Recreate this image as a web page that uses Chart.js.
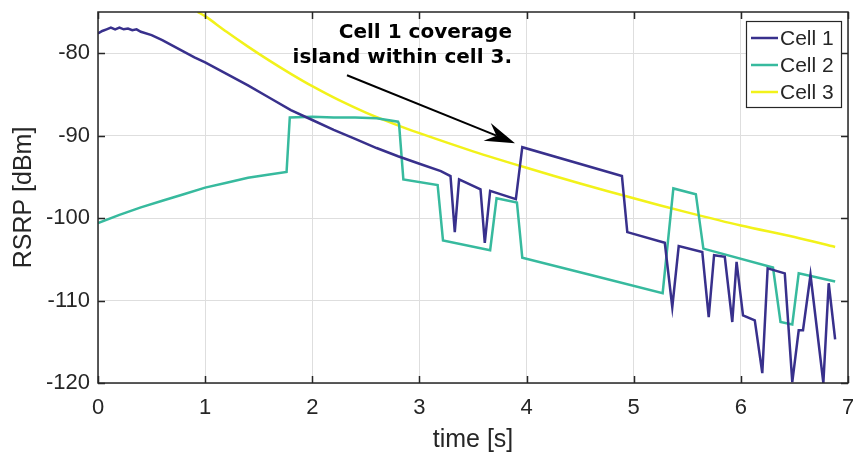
<!DOCTYPE html>
<html><head><meta charset="utf-8">
<script src="https://cdn.jsdelivr.net/npm/chart.js@4.4.1/dist/chart.umd.min.js"></script>
<style>html,body{margin:0;padding:0;background:#fff;overflow:hidden}canvas{display:block}</style>
</head><body>
<canvas id="c" width="853" height="456"></canvas>
<script>
const seriesNames = ['Cell 1', 'Cell 2', 'Cell 3'];

const cell1Time = [0.0, 0.04, 0.08, 0.12, 0.16, 0.2, 0.24, 0.28, 0.32, 0.36, 0.4, 0.5, 0.6, 0.7, 0.8, 0.9, 1.0, 1.2, 1.4, 1.6, 1.8, 2.0, 2.2, 2.4, 2.6, 2.8, 3.0, 3.2, 3.29, 3.33, 3.37, 3.57, 3.61, 3.66, 3.9, 3.96, 4.89, 4.94, 5.29, 5.36, 5.42, 5.64, 5.70, 5.75, 5.85, 5.92, 5.96, 6.02, 6.13, 6.20, 6.25, 6.41, 6.48, 6.54, 6.58, 6.65, 6.77, 6.82, 6.88];
const cell1Rsrp = [-77.6, -77.3, -77.1, -76.9, -77.1, -76.9, -77.1, -77.0, -77.2, -77.1, -77.4, -77.8, -78.4, -79.1, -79.8, -80.5, -81.1, -82.5, -83.9, -85.4, -86.9, -88.1, -89.3, -90.4, -91.5, -92.5, -93.4, -94.3, -94.9, -101.7, -95.3, -96.5, -103.0, -96.7, -97.7, -91.4, -94.9, -101.7, -103.0, -110.8, -103.4, -104.1, -112.0, -104.5, -104.7, -112.6, -105.3, -111.8, -112.4, -118.8, -106.1, -106.7, -119.9, -113.6, -113.6, -106.9, -120.0, -107.9, -114.7];

const cell2Time = [0.0, 0.2, 0.4, 0.6, 0.8, 1.0, 1.2, 1.4, 1.6, 1.76, 1.79, 2.0, 2.2, 2.4, 2.6, 2.8, 2.81, 2.85, 3.17, 3.22, 3.66, 3.72, 3.91, 3.96, 4.6, 5.27, 5.37, 5.58, 5.65, 6.30, 6.37, 6.48, 6.54, 6.88];
const cell2Rsrp = [-100.6, -99.6, -98.7, -97.9, -97.1, -96.3, -95.7, -95.1, -94.7, -94.4, -87.8, -87.7, -87.8, -87.8, -87.9, -88.3, -88.6, -95.3, -96.0, -102.7, -103.9, -97.6, -98.1, -104.8, -106.9, -109.1, -96.4, -97.1, -103.7, -106.0, -112.6, -112.9, -106.7, -107.7];

const cell3Time = [0.93, 1.0, 1.2, 1.4, 1.6, 1.8, 2.0, 2.25, 2.5, 2.75, 3.0, 3.5, 4.0, 4.5, 5.0, 5.5, 6.0, 6.5, 6.88];
const cell3Rsrp = [-75.0, -75.5, -77.4, -79.2, -80.9, -82.5, -84.0, -85.7, -87.2, -88.5, -89.7, -91.9, -93.9, -95.8, -97.6, -99.3, -100.9, -102.3, -103.5];

const xTicks = [0, 1, 2, 3, 4, 5, 6, 7];
const yTicks = [-120, -110, -100, -90, -80];
const annotationLines = ['Cell 1 coverage', 'island within cell 3.'];

const colors = ['#38308c', '#37ba9e', '#f2f21a'];
const toPts = (t, v) => t.map((x, i) => ({x: x, y: v[i]}));

const TXT = '#262626';

const framePlugin = {
  id: 'frame',
  afterDatasetsDraw(chart) {
    const {ctx, chartArea: a, scales: {x, y}} = chart;
    ctx.save();
    // annotation text + arrow
    ctx.fillStyle = '#000';
    ctx.font = 'bold 20px "DejaVu Sans"';
    ctx.textAlign = 'right';
    ctx.textBaseline = 'middle';
    const tx = x.getPixelForValue(3.864);
    ctx.fillText(annotationLines[0], tx, y.getPixelForValue(-77.55));
    ctx.fillText(annotationLines[1], tx, y.getPixelForValue(-80.6));
    const x0 = x.getPixelForValue(2.324), y0 = y.getPixelForValue(-82.67);
    const x1 = x.getPixelForValue(3.892), y1 = y.getPixelForValue(-90.91);
    const dx = x1 - x0, dy = y1 - y0, len = Math.hypot(dx, dy);
    const ux = dx / len, uy = dy / len, nx = -uy, ny = ux;
    const hl = 30, hw = 9.5;
    ctx.strokeStyle = '#000'; ctx.lineWidth = 2;
    ctx.beginPath(); ctx.moveTo(x0, y0); ctx.lineTo(x1 - 20 * ux, y1 - 20 * uy); ctx.stroke();
    ctx.beginPath();
    ctx.moveTo(x1, y1);
    ctx.lineTo(x1 - hl * ux + hw * nx, y1 - hl * uy + hw * ny);
    ctx.lineTo(x1 - 20 * ux, y1 - 20 * uy);
    ctx.lineTo(x1 - hl * ux - hw * nx, y1 - hl * uy - hw * ny);
    ctx.closePath(); ctx.fill();

    // frame
    ctx.strokeStyle = TXT; ctx.lineWidth = 1.5;
    ctx.strokeRect(a.left, a.top, a.right - a.left, a.bottom - a.top);
    const L = 7;
    ctx.beginPath();
    x.ticks.forEach(t => {
      const px = Math.round(x.getPixelForValue(t.value)) + 0.5;
      ctx.moveTo(px, a.bottom); ctx.lineTo(px, a.bottom - L);
      ctx.moveTo(px, a.top); ctx.lineTo(px, a.top + L);
    });
    y.ticks.forEach(t => {
      const py = Math.round(y.getPixelForValue(t.value)) + 0.5;
      ctx.moveTo(a.left, py); ctx.lineTo(a.left + L, py);
      ctx.moveTo(a.right, py); ctx.lineTo(a.right - L, py);
    });
    ctx.stroke();

    // legend
    const bx = 746, by = 21, bw = 95, bh = 86;
    ctx.fillStyle = '#fff';
    ctx.fillRect(bx, by, bw, bh);
    ctx.strokeStyle = TXT; ctx.lineWidth = 1.2;
    ctx.strokeRect(bx + 0.5, by + 0.5, bw, bh);
    ctx.font = '21px "Liberation Sans", Arial, sans-serif';
    ctx.textAlign = 'left';
    ctx.textBaseline = 'middle';
    chart.data.datasets.forEach((ds, i) => {
      const ry = by + 17 + i * 27;
      ctx.strokeStyle = ds.borderColor; ctx.lineWidth = 2.5;
      ctx.beginPath(); ctx.moveTo(bx + 5, ry); ctx.lineTo(bx + 32, ry); ctx.stroke();
      ctx.fillStyle = TXT;
      ctx.fillText(ds.label, bx + 34, ry + 1);
    });
    ctx.restore();
  }
};

new Chart(document.getElementById('c'), {
  type: 'line',
  data: {
    datasets: [
      {label: seriesNames[0], data: toPts(cell1Time, cell1Rsrp), borderColor: colors[0]},
      {label: seriesNames[1], data: toPts(cell2Time, cell2Rsrp), borderColor: colors[1]},
      {label: seriesNames[2], data: toPts(cell3Time, cell3Rsrp), borderColor: colors[2], tension: 0.3}
    ]
  },
  options: {
    responsive: false,
    animation: false,
    devicePixelRatio: 1,
    layout: {padding: {left: 0, right: 5, top: 12, bottom: 0}},
    elements: {
      line: {borderWidth: 2.5, tension: 0, fill: false},
      point: {radius: 0, hoverRadius: 0}
    },
    plugins: {legend: {display: false}, tooltip: {enabled: false}},
    scales: {
      x: {
        type: 'linear', min: 0, max: 7,
        afterBuildTicks: s => { s.ticks = xTicks.map(v => ({value: v})); },
        afterFit: s => { s.height = 73; s.paddingLeft = 0; s.paddingRight = 0; },
        grid: {color: '#dedede', lineWidth: 1, drawTicks: false},
        border: {display: false},
        ticks: {color: TXT, font: {family: '"Liberation Sans", Arial, sans-serif', size: 22}, padding: 12, maxRotation: 0, callback: v => String(v)},
        title: {display: true, text: 'time [s]', color: TXT, font: {family: '"Liberation Sans", Arial, sans-serif', size: 25}, padding: {top: 0, bottom: 1}}
      },
      y: {
        type: 'linear', min: -120, max: -75,
        afterBuildTicks: s => { s.ticks = yTicks.map(v => ({value: v})); },
        afterFit: s => { s.width = 98; s.paddingTop = 0; s.paddingBottom = 0; },
        grid: {color: '#dedede', lineWidth: 1, drawTicks: false},
        border: {display: false},
        ticks: {color: TXT, font: {family: '"Liberation Sans", Arial, sans-serif', size: 22}, padding: 8, callback: v => String(v)},
        title: {display: true, text: 'RSRP [dBm]', color: TXT, font: {family: '"Liberation Sans", Arial, sans-serif', size: 25}, padding: {top: 9, bottom: 0}}
      }
    }
  },
  plugins: [framePlugin]
});
</script>
</body></html>
